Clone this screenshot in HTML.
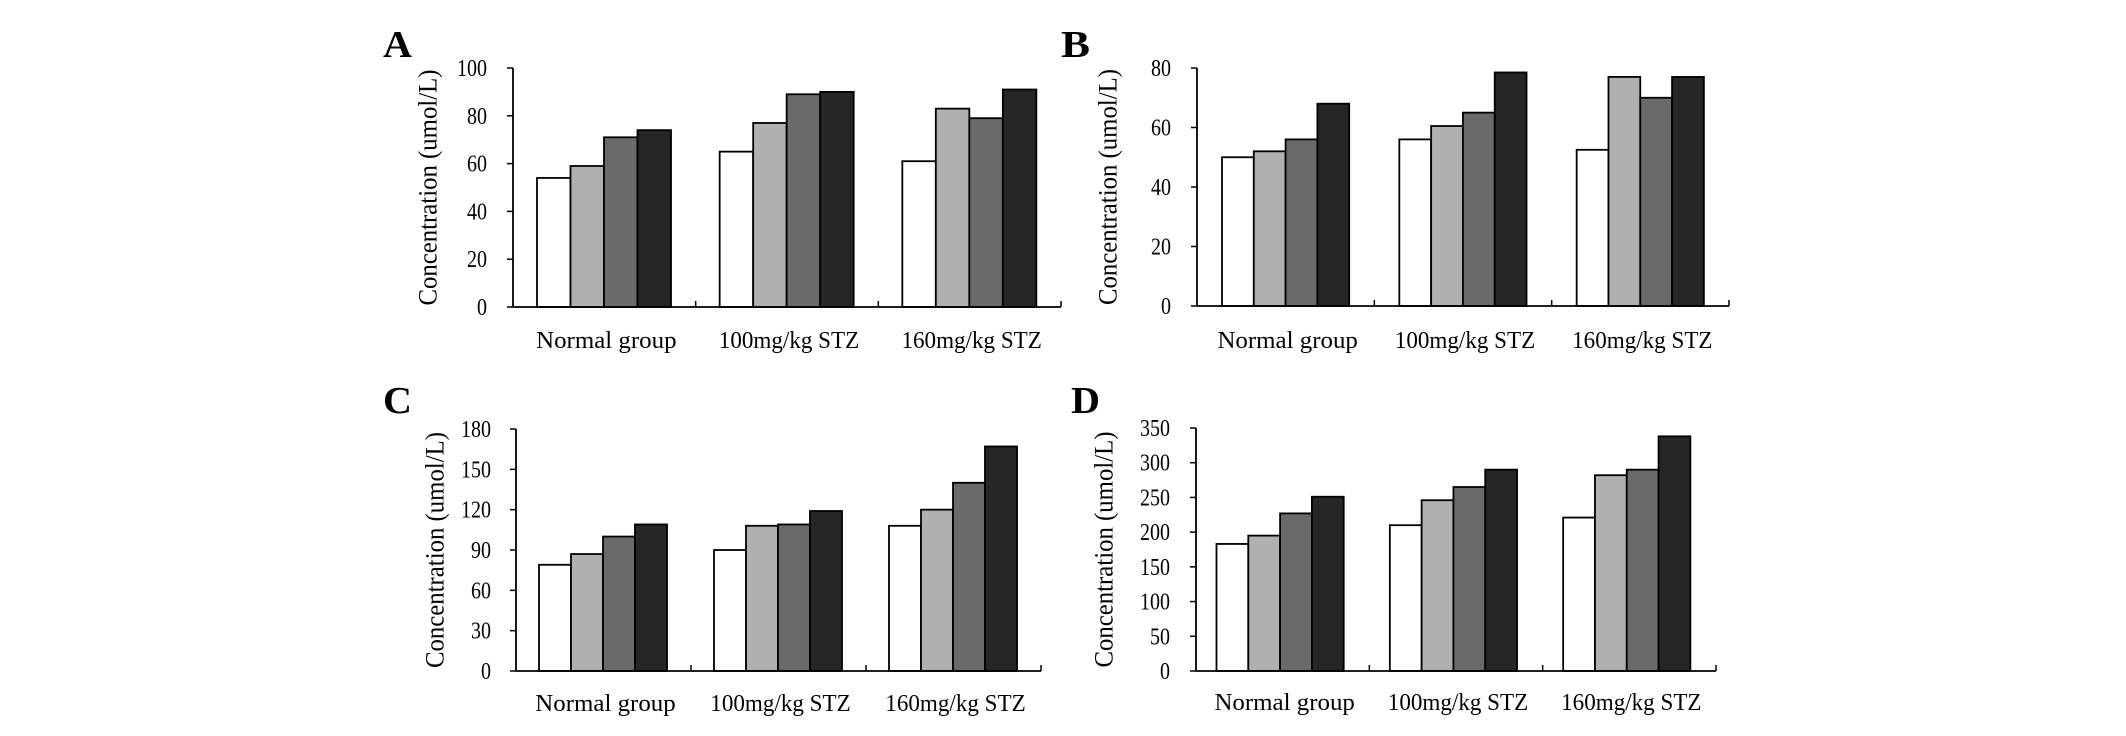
<!DOCTYPE html>
<html><head><meta charset="utf-8"><style>
html,body{margin:0;padding:0;background:#fff;}
svg{display:block;font-family:"Liberation Serif",serif;}
</style></head><body>
<svg id="fig" width="2126" height="736" viewBox="0 0 2126 736" xmlns="http://www.w3.org/2000/svg"></svg>
<script>
const categories = ["Normal group", "100mg/kg STZ", "160mg/kg STZ"];
const valuesA = [[54,59,71,74],[65,77,89,90],[61,83,79,91]];
const valuesB = [[50,52,56,68],[56,60.5,65,78.5],[52.5,77,70,77]];
const valuesC = [[79,87,100,109],[90,108,109,119],[108,120,140,167]];
const valuesD = [[183,195,227,251],[210,246,265,290],[221,282,290,338]];
const ticksA = [0,20,40,60,80,100];
const ticksB = [0,20,40,60,80];
const ticksC = [0,30,60,90,120,150,180];
const ticksD = [0,50,100,150,200,250,300,350];
const seriesColors = ["#ffffff","#b0b0b0","#6a6a6a","#262626"];

const svg = document.getElementById('fig');
const NS = "http://www.w3.org/2000/svg";
function mk(tag, attrs, parent){
  const e = document.createElementNS(NS, tag);
  for (const k in attrs) e.setAttribute(k, attrs[k]);
  (parent||svg).appendChild(e);
  return e;
}
const panels = [
  {id:'a', letter:'A', lx:383, ly:57, x0:513, x1:1061, yTop:68, yBase:307, off:24, bw:33.5, vals:valuesA, ticks:ticksA, catY:348, titleX:428, tickEnd:487},
  {id:'b', letter:'B', lx:1061, ly:57, x0:1197, x1:1729, yTop:68, yBase:306, off:25, bw:31.8, vals:valuesB, ticks:ticksB, catY:348, titleX:1108, tickEnd:1171},
  {id:'c', letter:'C', lx:383, ly:413, x0:516, x1:1041, yTop:429, yBase:671, off:23, bw:32, vals:valuesC, ticks:ticksC, catY:711, titleX:435, tickEnd:491},
  {id:'d', letter:'D', lx:1071, ly:413, x0:1196, x1:1716, yTop:428, yBase:671, off:20.5, bw:31.8, vals:valuesD, ticks:ticksD, catY:710, titleX:1104, tickEnd:1170}
];
panels.forEach(p => {
  const g = mk('g', {});
  
  
  const maxT = p.ticks[p.ticks.length-1];
  const yScale = v => p.yBase - (v / maxT) * (p.yBase - p.yTop);
  const gw = (p.x1 - p.x0) / categories.length;
  const xScale = (gi, si) => p.x0 + gi*gw + p.off + si*p.bw;
  const L = mk('text', {x:p.lx, y:p.ly, 'font-size':38, 'font-weight':'bold', textLength:29, lengthAdjust:'spacingAndGlyphs'}, g);
  L.textContent = p.letter;
  
  
  p.vals.forEach((grp, gi) => grp.forEach((v, si) => {
    const y = yScale(v);
    const r = mk('rect', {x:xScale(gi,si), y:y, width:p.bw, height:p.yBase-y, fill:seriesColors[si], stroke:'#000', 'stroke-width':1.8}, g);
    
    
  }));
  const ya = mk('line', {x1:p.x0, y1:p.yTop, x2:p.x0, y2:p.yBase, stroke:'#000', 'stroke-width':1.8}, g);
  
  
  const xa = mk('line', {x1:p.x0, y1:p.yBase, x2:p.x1, y2:p.yBase, stroke:'#000', 'stroke-width':1.8}, g);
  
  
  for (let i=1; i<=categories.length; i++){
    const tx = p.x0 + i*gw;
    mk('line', {x1:tx, y1:p.yBase, x2:tx, y2:p.yBase-6, stroke:'#000', 'stroke-width':1.5}, g);
  }
  p.ticks.forEach(t => {
    const y = yScale(t);
    mk('line', {x1:p.x0-6, y1:y, x2:p.x0, y2:y, stroke:'#000', 'stroke-width':1.5}, g);
    const s = String(t);
    const tl = mk('text', {x:p.tickEnd, y:y+8, 'font-size':24, 'text-anchor':'end', textLength:s.length*10, lengthAdjust:'spacingAndGlyphs'}, g);
    tl.textContent = s;
    
    
  });
  categories.forEach((c, gi) => {
    const cx = p.x0 + gi*gw + gw/2 + 2;
    const ct = mk('text', {x:cx, y:p.catY, 'font-size':24, 'text-anchor':'middle', textLength:c.length*11.7, lengthAdjust:'spacingAndGlyphs'}, g);
    ct.textContent = c;
    
    
  });
  const my = (p.yTop + p.yBase)/2;
  const yt = mk('text', {x:p.titleX, y:my, 'font-size':26, 'text-anchor':'middle', transform:'rotate(-90 '+p.titleX+' '+my+')', textLength:236, lengthAdjust:'spacingAndGlyphs', 'dominant-baseline':'central'}, g);
  yt.textContent = 'Concentration (umol/L)';
  
  
});
</script>
</body></html>
